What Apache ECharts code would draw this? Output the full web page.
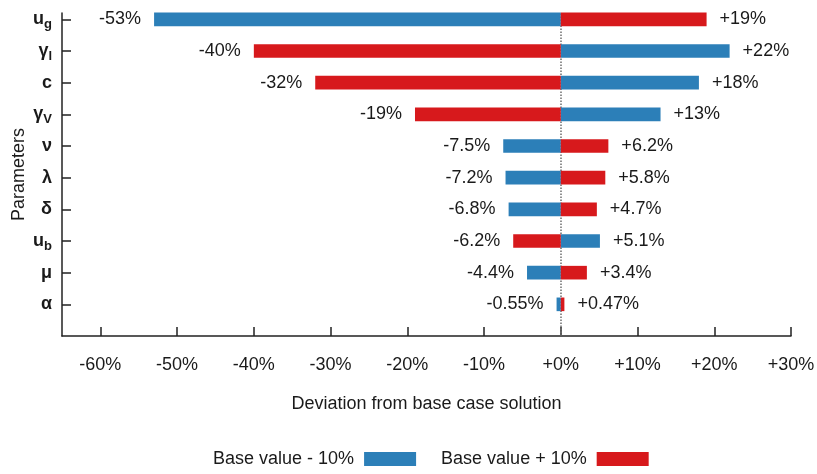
<!DOCTYPE html>
<html>
<head>
<meta charset="utf-8">
<script src="https://cdn.jsdelivr.net/npm/echarts@6/dist/echarts.min.js"></script>
<style>
  html, body { margin: 0; padding: 0; background: #fff; }
  #chart { width: 817px; height: 474px; }
</style>
</head>
<body>
<div id="chart"></div>
<script>
// Sensitivity of the base case solution to a ±10% change of each parameter.
// Parameters listed top to bottom: [symbol, subscript]
const paramNames = [
  ['u', 'g'], ['\u03b3', 'l'], ['c', ''], ['\u03b3', 'V'], ['\u03bd', ''],
  ['\u03bb', ''], ['\u03b4', ''], ['u', 'b'], ['\u03bc', ''], ['\u03b1', '']
];
// Deviation (%) when the parameter is lowered by 10%
const minusTen = [-53, 22, 18, 13, -7.5, -7.2, -6.8, 5.1, -4.4, -0.55];
// Deviation (%) when the parameter is raised by 10%
const plusTen  = [19, -40, -32, -19, 6.2, 5.8, 4.7, -6.2, 3.4, 0.47];
// Tick values of the deviation axis
const xTicks = [-60, -50, -40, -30, -20, -10, 0, 10, 20, 30];
const seriesNames = ['Base value - 10%', 'Base value + 10%'];

const FONT = '"Liberation Sans", Arial, Helvetica, sans-serif';
const FS = 18;
const INK = '#1a1a1a';
const n = paramNames.length;
// Row position on the vertical axis: first parameter on top.
const rowOf = i => n - i;
const rowTicks = paramNames.map((_, i) => rowOf(i));

const pct = v => (v > 0 ? '+' : '') + v + '%';
const tickPct = v => (v >= 0 ? '+' : '') + v + '%';

function renderBar(params, api) {
  const v = api.value(0);
  const y = api.value(1);
  const p0 = api.coord([0, y]);
  const p1 = api.coord([v, y]);
  const h = api.size([0, 1])[1] * 0.43;
  return {
    type: 'rect',
    shape: {
      x: Math.min(p0[0], p1[0]),
      y: p0[1] - h / 2,
      width: Math.abs(p1[0] - p0[0]),
      height: h
    },
    style: { fill: api.visual('color') },
    textContent: {
      style: { text: pct(v), fill: INK, font: FS + 'px ' + FONT }
    },
    textConfig: { position: v < 0 ? 'left' : 'right', distance: 13 }
  };
}

const chart = echarts.init(document.getElementById('chart'), null, { renderer: 'canvas' });

chart.setOption({
  animation: false,
  backgroundColor: '#ffffff',
  textStyle: { fontFamily: FONT },
  grid: { left: 62, right: 26, top: 13, bottom: 138, containLabel: false, outerBoundsMode: 'none' },
  legend: {
    data: seriesNames,
    left: 213,
    top: 450,
    padding: 0,
    align: 'right',
    icon: 'rect',
    itemWidth: 52,
    itemHeight: 14,
    itemGap: 25,
    formatter: name => name + ' ',
    textStyle: { fontSize: FS, color: INK, fontFamily: FONT }
  },
  xAxis: {
    type: 'value',
    min: -65,
    max: 30,
    name: 'Deviation from base case solution',
    nameLocation: 'middle',
    nameGap: 59,
    nameMoveOverlap: false,
    nameTextStyle: { fontSize: FS, color: INK, fontFamily: FONT },
    axisLine: { show: true, onZero: false, lineStyle: { color: '#222', width: 1.5 } },
    axisTick: { show: true, inside: true, length: 9, customValues: xTicks,
      lineStyle: { color: '#222', width: 1.5 } },
    axisLabel: { customValues: xTicks, formatter: tickPct, margin: 20,
      fontSize: FS, color: INK, fontFamily: FONT },
    splitLine: { show: false }
  },
  yAxis: {
    type: 'value',
    min: 0,
    max: 10.2,
    name: 'Parameters',
    nameLocation: 'middle',
    nameRotate: 90,
    nameGap: 34,
    nameMoveOverlap: false,
    nameTextStyle: { fontSize: FS, color: INK, fontFamily: FONT },
    axisLine: { show: true, onZero: false, lineStyle: { color: '#222', width: 1.5 } },
    axisTick: { show: true, inside: true, length: 9, customValues: rowTicks,
      lineStyle: { color: '#222', width: 1.5 } },
    axisLabel: {
      customValues: rowTicks,
      margin: 10,
      formatter: v => {
        const p = paramNames[n - Math.round(v)];
        if (!p) return '';
        return '{m|' + p[0] + '}' + (p[1] ? '{s|' + p[1] + '}' : '');
      },
      rich: {
        m: { fontSize: 18, fontWeight: 'bold', color: INK, fontFamily: FONT, lineHeight: 20 },
        s: { fontSize: 13, fontWeight: 'bold', color: INK, fontFamily: FONT, lineHeight: 13,
             padding: [11, 0, 0, 0] }
      }
    },
    splitLine: { show: false }
  },
  series: [
    {
      name: seriesNames[0],
      type: 'custom',
      renderItem: renderBar,
      itemStyle: { color: '#2c7fb8' },
      encode: { x: 0, y: 1 },
      data: minusTen.map((v, i) => [v, rowOf(i)]),
      z: 3,
      markLine: {
        silent: true,
        z: 1,
        symbol: ['none', 'none'],
        label: { show: false },
        lineStyle: { type: 'dotted', color: '#6e6e6e', width: 1.5 },
        data: [{ xAxis: 0 }]
      }
    },
    {
      name: seriesNames[1],
      type: 'custom',
      renderItem: renderBar,
      itemStyle: { color: '#d7191c' },
      encode: { x: 0, y: 1 },
      data: plusTen.map((v, i) => [v, rowOf(i)]),
      z: 3
    }
  ]
});
</script>
</body>
</html>
